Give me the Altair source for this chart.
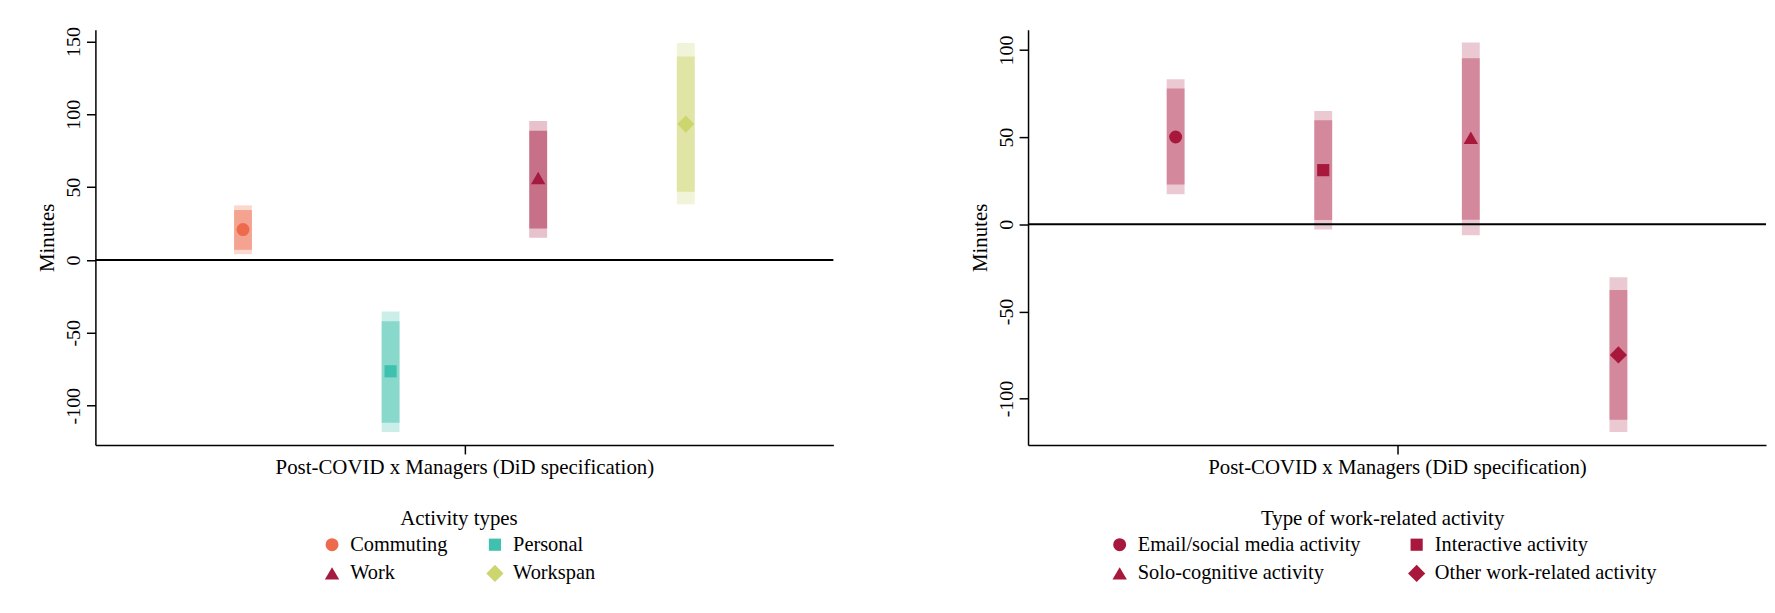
import altair as alt
import pandas as pd

# ---------------- data ----------------
left_cats = ["Commuting", "Personal", "Work", "Workspan"]
left_est = [20.9, -76.4, 56.3, 93.3]
left_inner_lo = [7.0, -111.8, 21.7, 46.9]
left_inner_hi = [34.3, -42.1, 88.7, 139.7]
left_outer_lo = [4.0, -118.0, 15.3, 38.3]
left_outer_hi = [37.5, -35.4, 95.4, 149.0]

right_cats = ["Email/social media activity", "Interactive activity",
              "Solo-cognitive activity", "Other work-related activity"]
right_est = [50.1, 31.1, 49.7, -74.9]
right_inner_lo = [22.8, 2.5, 2.7, -112.1]
right_inner_hi = [77.9, 59.7, 95.3, -37.6]
right_outer_lo = [17.2, -2.9, -6.3, -119.2]
right_outer_hi = [83.2, 65.1, 104.3, -30.4]

x_title = "Post-COVID x Managers (DiD specification)"
y_title = "Minutes"

left_colors = ["#EE6A4C", "#40C0AE", "#A51A40", "#CDD56E"]
right_colors = ["#A8173C", "#A8173C", "#A8173C", "#A8173C"]
shapes = ["circle", "square", "triangle-up", "diamond"]
marker_sizes = [170, 150, 210, 300]

FONT = "Liberation Serif"


def panel(cats, est, ilo, ihi, olo, ohi, field, legend_title, colors,
          outer_op, inner_op, ydomain, yticks, legend_x, col_pad):
    df = pd.DataFrame({
        field: cats,
        "pos": list(range(1, len(cats) + 1)),
        "est": est, "ilo": ilo, "ihi": ihi, "olo": olo, "ohi": ohi,
    })
    xenc = alt.X("pos:Q", scale=alt.Scale(domain=[0, len(cats) + 1], nice=False),
                 axis=alt.Axis(values=[(len(cats) + 1) / 2], labels=False,
                               title=x_title, tickSize=9, titlePadding=2, grid=False))

    def yenc(f):
        return alt.Y(f, scale=alt.Scale(domain=ydomain, nice=False, zero=False),
                     axis=alt.Axis(values=yticks, title=y_title, labelAngle=270,
                                   labelExpr="replace(datum.label, '\u2212', '-')",
                                   tickSize=9, labelPadding=3, titlePadding=6,
                                   grid=False))

    leg = alt.Legend(title=legend_title, orient="none", legendX=legend_x, legendY=482,
                     columns=2, direction="horizontal", columnPadding=col_pad,
                     titleAnchor="middle", labelLimit=0, titleLimit=0)
    color = alt.Color(f"{field}:N", scale=alt.Scale(domain=cats, range=colors), legend=leg)
    shape = alt.Shape(f"{field}:N", scale=alt.Scale(domain=cats, range=shapes), legend=leg)
    size = alt.Size(f"{field}:N",
                    scale=alt.Scale(type="ordinal", domain=cats, range=marker_sizes),
                    legend=None)

    base = alt.Chart(df)
    outer = base.mark_rule(strokeWidth=18, strokeCap="butt", opacity=outer_op).encode(
        x=xenc, y=yenc("olo:Q"), y2="ohi:Q", color=color)
    inner = base.mark_rule(strokeWidth=18, strokeCap="butt", opacity=inner_op).encode(
        x=xenc, y=yenc("ilo:Q"), y2="ihi:Q", color=color)
    zero = alt.Chart(pd.DataFrame({"zero": [0]})).mark_rule(
        color="black", strokeWidth=2).encode(y=yenc("zero:Q"))
    points = base.mark_point(filled=True, opacity=1).encode(
        x=xenc, y=yenc("est:Q"), color=color, shape=shape, size=size)
    return alt.layer(outer, inner, zero, points).properties(width=743, height=418)


left = panel(left_cats, left_est, left_inner_lo, left_inner_hi, left_outer_lo, left_outer_hi,
             "activity", "Activity types", left_colors, 0.27, 0.48,
             [-127, 158], [-100, -50, 0, 50, 100, 150], 228, 37)
right = panel(right_cats, right_est, right_inner_lo, right_inner_hi, right_outer_lo,
              right_outer_hi, "worktype", "Type of work-related activity", right_colors,
              0.23, 0.36, [-126.6, 111.6], [-100, -50, 0, 50, 100], 82, 46)

chart = alt.hconcat(left, right, spacing=135).resolve_scale(
    color="independent", shape="independent", size="independent"
).properties(
    padding={"left": 29, "top": 16, "right": 0, "bottom": 5}
).configure(font=FONT).configure_view(stroke=None).configure_axis(
    labelFont=FONT, titleFont=FONT, labelFontSize=20, titleFontSize=21,
    titleFontWeight="normal", labelColor="black", titleColor="black",
    domainColor="black", tickColor="black", domainWidth=1.5, tickWidth=1.5
).configure_legend(
    labelFont=FONT, titleFont=FONT, labelFontSize=20.5, titleFontSize=21,
    titleFontWeight="normal", labelColor="black", titleColor="black",
    symbolSize=150, rowPadding=8, titlePadding=5, labelOffset=8,
    symbolStrokeWidth=0, symbolOpacity=1
)

chart.save("out.html", embed_options={"renderer": "svg", "actions": False})
